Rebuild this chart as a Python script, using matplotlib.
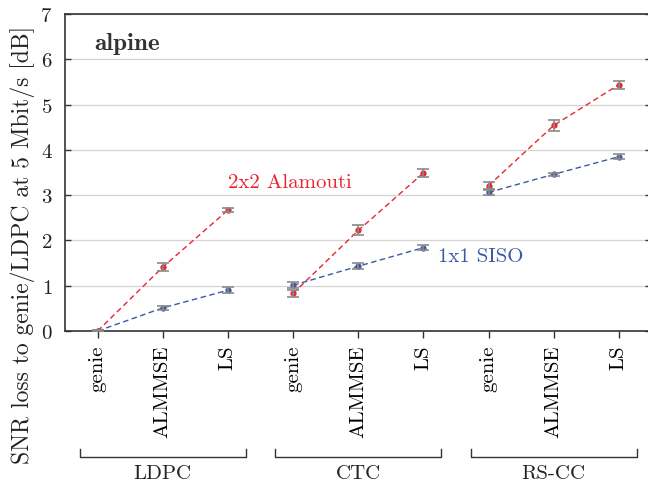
import matplotlib
matplotlib.use('Agg')
import matplotlib.pyplot as plt
import matplotlib.transforms as mtransforms

plt.rcParams['font.family'] = 'cmr10'
plt.rcParams['axes.formatter.use_mathtext'] = True

codes = ['LDPC', 'CTC', 'RS-CC']
estimators = ['genie', 'ALMMSE', 'LS']

# SNR loss [dB], one entry per (code, estimator)
alamouti = [0.0, 1.41, 2.67, 0.83, 2.22, 3.49, 3.21, 4.54, 5.44]
alamouti_err = [0.02, 0.09, 0.05, 0.07, 0.11, 0.08, 0.07, 0.12, 0.09]
siso = [0.0, 0.51, 0.90, 1.01, 1.43, 1.84, 3.06, 3.46, 3.85]
siso_err = [0.02, 0.04, 0.07, 0.07, 0.07, 0.05, 0.05, 0.04, 0.05]

red = '#e8262f'
blue = '#3d58a6'

fig = plt.figure(figsize=(6.48, 4.85), dpi=100)
ax = fig.add_axes([65/648, 1 - 332/485, 586.5/648, 317/485])

n = len(estimators)
xs = list(range(len(codes) * n))
for g in range(len(codes)):
    sl = slice(g*n, (g+1)*n)
    ax.plot(xs[sl], alamouti[sl], color=red, lw=1.0, ls=(0, (4, 2.5)), zorder=3)
    ax.plot(xs[sl], siso[sl], color=blue, lw=1.0, ls=(0, (4, 2.5)), zorder=3)
ax.plot(xs, alamouti, 'o', ms=3.5, color=red, zorder=4)
ax.plot(xs, siso, 'o', ms=3.5, color=blue, zorder=4)
ax.errorbar(xs, alamouti, yerr=alamouti_err, fmt='none', ecolor='#8a8a8a',
            elinewidth=1.2, capsize=4, capthick=1.2, zorder=5)
ax.errorbar(xs, siso, yerr=siso_err, fmt='none', ecolor='#8a8a8a',
            elinewidth=1.2, capsize=4, capthick=1.2, zorder=5)

ax.set_xlim(-0.5, len(xs) - 0.5)
ax.set_ylim(0, 7)
ax.set_yticks(range(0, 8))
ax.grid(axis='y', color='#d4d4d4', lw=0.9)
ax.set_axisbelow(True)
ax.set_xticks(xs)
ax.set_xticklabels(estimators * len(codes), rotation=90, fontsize=15)
ax.tick_params(axis='x', direction='out', length=5, width=1, pad=5, color='#333333')
ax.tick_params(axis='y', direction='in', length=4, width=1, left=True, right=True,
               labelsize=15, pad=9, color='#333333', labelcolor='#222222')
for s in ax.spines.values():
    s.set_linewidth(1.2)
    s.set_color('#333333')

# brackets with code names under the estimator labels
trans = mtransforms.blended_transform_factory(ax.transData, ax.transAxes)
for g, code in enumerate(codes):
    x0 = g*n - 0.27
    x1 = g*n + n - 1 + 0.27
    ax.plot([x0, x0, x1, x1], [-0.372, -0.397, -0.397, -0.372], color='#333333',
            lw=1.0, transform=trans, clip_on=False)
    ax.text(g*n + (n - 1) / 2, -0.447, code, transform=trans, ha='center',
            va='center', fontsize=15, color='#222222')

ax.text(0.05, 0.91, 'alpine', transform=ax.transAxes, fontfamily='cmb10',
        fontsize=18, color='#333333', va='center')
ax.text(2.0, 3.28, '2x2 Alamouti', color=red, fontsize=15, va='center')
ax.text(5.22, 1.66, '1x1 SISO', color=blue, fontsize=15, va='center')

fig.text(23/648, 1 - 245/485, 'SNR loss to genie/LDPC at 5 Mbit/s [dB]',
         rotation=90, ha='center', va='center', fontsize=17, color='#222222')

fig.savefig('out.png', dpi=100)
